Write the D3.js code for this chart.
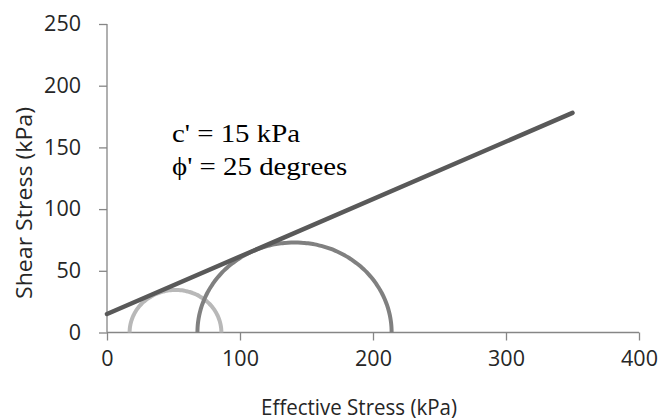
<!DOCTYPE html>
<html>
<head>
<meta charset="utf-8">
<script src="https://cdn.jsdelivr.net/npm/d3@7"></script>
<style>
  html, body { margin: 0; padding: 0; background: #fff; }
  svg { display: block; }
</style>
</head>
<body>
<svg id="chart" width="659" height="420"></svg>
<script>
// ---- data ----
const xTicks = [0, 100, 200, 300, 400];
const yTicks = [0, 50, 100, 150, 200, 250];
// Mohr circles: minor and major principal effective stresses (kPa)
const circleNames = ["Test 1", "Test 2"];
const sigma3 = [17, 68];
const sigma1 = [86, 214];
const circleColors = ["#b8b8b8", "#808080"];
// failure envelope points (effective stress, shear stress)
const envelopeX = [0, 350];
const envelopeY = [15, 178];
const annotations = ["c' = 15 kPa", "\u03d5' = 25 degrees"];

// ---- layout ----
const svg = d3.select("#chart");
const x = d3.scaleLinear().domain([0, 400]).range([107, 639]);
const y = d3.scaleLinear().domain([0, 250]).range([332.5, 24]);
const axisColor = "#868686";
const sans = "'Open Sans', sans-serif";

// axes
const xAxis = svg.append("g").attr("transform", `translate(0,${y(0)})`)
  .call(d3.axisBottom(x).tickValues(xTicks).tickSize(8).tickPadding(10).tickFormat(d3.format("d")));
const yAxis = svg.append("g").attr("transform", `translate(${x(0)},0)`)
  .call(d3.axisLeft(y).tickValues(yTicks).tickSize(8).tickPadding(18).tickFormat(d3.format("d")));
[xAxis, yAxis].forEach(g => {
  g.select(".domain").attr("stroke", axisColor).attr("stroke-width", 1.3);
  g.selectAll(".tick line").attr("stroke", axisColor).attr("stroke-width", 1.3);
  g.selectAll(".tick text").attr("fill", "#262626").style("font-family", sans).style("font-size", "21.5px");
});
xAxis.select(".domain").attr("d", `M${x(0)},0H${x(400)}`);
yAxis.select(".domain").attr("d", `M0,${y(0)}V${y(250)}`);

// Mohr circles (upper halves)
const t = d3.range(0, 181, 2).map(a => a * Math.PI / 180);
sigma3.forEach((s3, i) => {
  const c = (s3 + sigma1[i]) / 2, r = (sigma1[i] - s3) / 2;
  const line = d3.line()
    .x(a => x(c + r * Math.cos(a)))
    .y(a => y(r * Math.sin(a)))
    .curve(d3.curveCardinal);
  svg.append("path").datum(t).attr("d", line)
    .attr("fill", "none").attr("stroke", circleColors[i]).attr("stroke-width", 4);
});

// failure envelope
const env = envelopeX.map((v, i) => [v, envelopeY[i]]);
svg.append("path").datum(env)
  .attr("d", d3.line().x(d => x(d[0])).y(d => y(d[1])))
  .attr("fill", "none").attr("stroke", "#595959").attr("stroke-width", 4.5).attr("stroke-linecap", "round");

// annotations
annotations.forEach((txt, i) => {
  svg.append("text").attr("transform", `translate(172,${142 + i * 33}) scale(1.11,1)`)
    .style("font-family", "'Liberation Serif', 'Times New Roman', serif")
    .style("font-size", "26px").attr("fill", "#000").text(txt);
});

// axis titles
svg.append("text").attr("x", 359).attr("y", 415)
  .attr("text-anchor", "middle").style("font-family", sans).style("font-size", "21px")
  .attr("textLength", 196).attr("lengthAdjust", "spacingAndGlyphs")
  .attr("fill", "#262626").text("Effective Stress (kPa)");
svg.append("text").attr("transform", `translate(32,${203}) rotate(-90)`)
  .attr("text-anchor", "middle").style("font-family", sans).style("font-size", "22px")
  .attr("textLength", 192).attr("lengthAdjust", "spacingAndGlyphs")
  .attr("fill", "#262626").text("Shear Stress (kPa)");
</script>
</body>
</html>
